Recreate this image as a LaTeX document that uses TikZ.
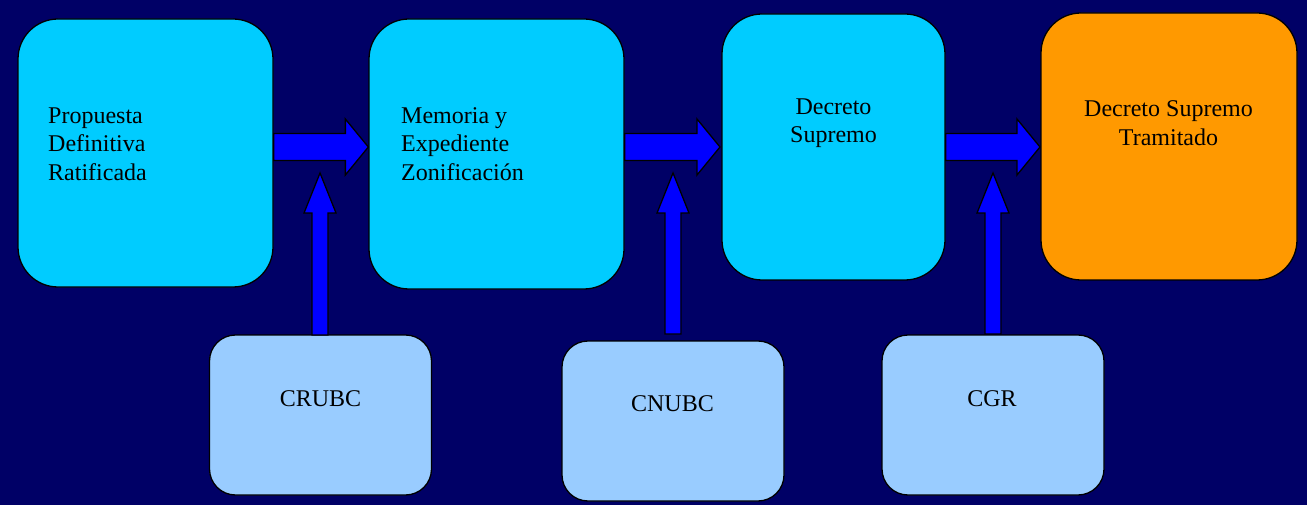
\documentclass[tikz,border=0pt]{standalone}
\usepackage{fontspec}
\newfontfamily\tnrfont{LiberationSerif}[Extension=.ttf, UprightFont=*-Regular]
\usetikzlibrary{calc}
\definecolor{bgnavy}{HTML}{000066}
\definecolor{cyanbox}{HTML}{00CCFF}
\definecolor{orangebox}{HTML}{FF9900}
\definecolor{lightbox}{HTML}{99CCFF}
\definecolor{arrblue}{HTML}{0000FF}
\tikzset{
  bigbox/.style={draw=black, line width=1.3pt, rounded corners=40pt, inner sep=0pt},
  smallbox/.style={draw=black, line width=1.3pt, rounded corners=26pt, fill=lightbox, inner sep=0pt, minimum width=222pt, minimum height=160pt},
  txt/.style={inner sep=0pt, font=\tnrfont\fontsize{24}{28.7}\selectfont, text=black},
  barrow/.style={fill=arrblue, draw=black, line width=1.3pt, line join=miter},
}
% horizontal block arrow: tail coordinate #1, tip coordinate #2
\newcommand\harr[2]{%
  \draw[barrow] ($(#1)+(0,-13.5)$) -- ($(#2)+(-23,-13.5)$) -- ($(#2)+(-23,-28)$) -- (#2)
    -- ($(#2)+(-23,28)$) -- ($(#2)+(-23,13.5)$) -- ($(#1)+(0,13.5)$) -- cycle;}
% vertical (upward) block arrow: tail #1, tip #2
\newcommand\varr[2]{%
  \draw[barrow] ($(#1)+(-8,0)$) -- ($(#2)+(-8,40)$) -- ($(#2)+(-16,40)$) -- (#2)
    -- ($(#2)+(16,40)$) -- ($(#2)+(8,40)$) -- ($(#1)+(8,0)$) -- cycle;}
\begin{document}
\begin{tikzpicture}[x=1pt,y=-1pt]
\fill[bgnavy] (0,0) rectangle (1307,505);
\useasboundingbox (0,0) rectangle (1307,505);

% main boxes
\node[bigbox, fill=cyanbox, minimum width=255pt, minimum height=268pt] (b1) at (145.5,153) {};
\node[bigbox, fill=cyanbox, minimum width=255pt, minimum height=270pt] (b2) at (496.5,154) {};
\node[bigbox, fill=cyanbox, minimum width=223pt, minimum height=266pt] (b3) at (833.5,147) {};
\node[bigbox, fill=orangebox, minimum width=256pt, minimum height=267pt] (b4) at (1169,146.5) {};

% lower boxes
\node[smallbox] (s1) at (320.5,415) {};
\node[smallbox] (s2) at (673,421) {};
\node[smallbox] (s3) at (993,415) {};

% texts (base anchor = baseline of last line)
\node[txt, align=left, anchor=base west] (t1) at (48,180.5) {Propuesta\\Definitiva\\Ratificada};
\node[txt, align=left, anchor=base west] (t2) at (401,180.5) {Memoria y\\Expediente\\Zonificación};
\node[txt, align=center, anchor=base] (t3) at (833.5,143) {Decreto\\Supremo};
\node[txt, align=center, anchor=base] (t4) at (1168.5,145.5) {Decreto Supremo\\Tramitado};
\node[txt, anchor=base] (t5) at (320.5,406) {CRUBC};
\node[txt, anchor=base] (t6) at (672.5,411) {CNUBC};
\node[txt, anchor=base] (t7) at (992,406) {CGR};

% arrow anchor points
\coordinate (h1a) at (b1.east |- 0,147);
\coordinate (h1b) at (b2.west |- 0,147);
\coordinate (h2a) at (b2.east |- 0,147);
\coordinate (h2b) at (720,147);
\coordinate (h3a) at (b3.east |- 0,147);
\coordinate (h3b) at (1040,147);
\coordinate (v1a) at (320,335);
\coordinate (v1b) at (320,173);
\coordinate (v2a) at (673,334);
\coordinate (v2b) at (673,173);
\coordinate (v3a) at (993,334);
\coordinate (v3b) at (993,173);

\harr{h1a}{h1b}
\harr{h2a}{h2b}
\harr{h3a}{h3b}
\varr{v1a}{v1b}
\varr{v2a}{v2b}
\varr{v3a}{v3b}
\end{tikzpicture}
\end{document}
